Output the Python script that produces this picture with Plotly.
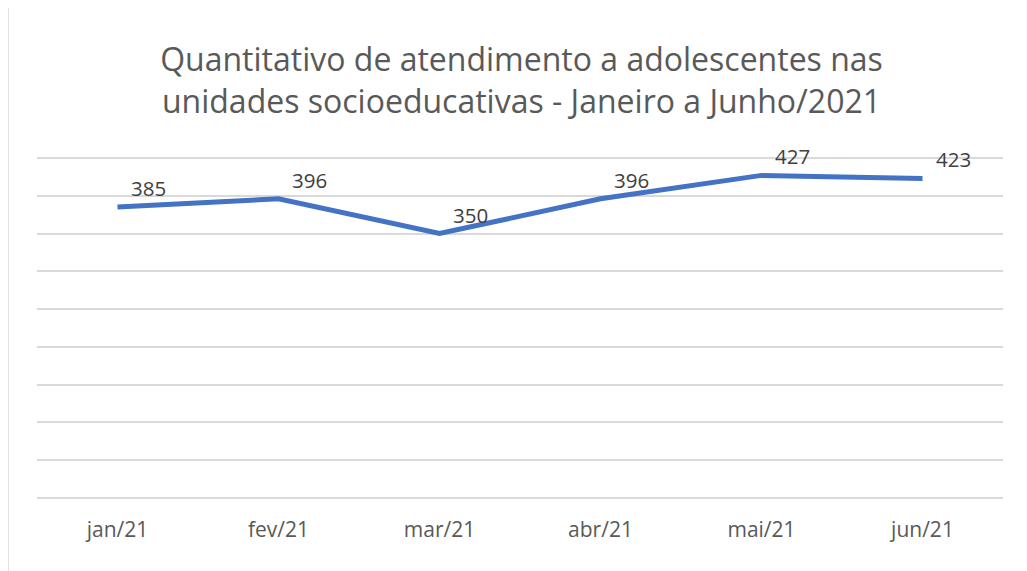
import plotly.graph_objects as go

months = ["jan/21", "fev/21", "mar/21", "abr/21", "mai/21", "jun/21"]
atendimentos = [385, 396, 350, 396, 427, 423]
title_text = "Quantitativo de atendimento a adolescentes nas<br>unidades socioeducativas - Janeiro a Junho/2021"

# the page body adds an 8px offset; compensate in margins
OFF = 8
W, H = 1027, 571
EXTRA = 4  # px of headroom above the 450 gridline so it gets drawn
L, R, T, B = 37 - OFF, 24 + OFF, 158 - OFF - EXTRA, 73 + OFF
pw, ph = W - L - R, H - T - B
scale = (ph - EXTRA) / 450.0
ytop = 450 + EXTRA / scale
FONT = "Open Sans, Lato, sans-serif"

fig = go.Figure()
fig.add_trace(go.Scatter(
    x=months, y=atendimentos, mode="lines",
    line=dict(color="#4472C4", width=5),
    hoverinfo="x+y", showlegend=False,
))

for m, v in zip(months, atendimentos):
    fig.add_annotation(x=m, y=v, text=str(v), showarrow=False,
                       xanchor="center", yanchor="middle",
                       xshift=31, yshift=19,
                       font=dict(family=FONT, size=20.5, color="#404040"))

fig.add_shape(type="rect", xref="paper", yref="paper",
              x0=(8 - OFF - L) / pw, x1=(W + 20 - L) / pw,
              y0=-(H + 20 - T - ph) / ph, y1=1 + (T - (7 - OFF)) / ph,
              line=dict(color="#d9d9d9", width=1.5), layer="below")

fig.update_layout(
    width=W, height=H,
    margin=dict(l=L, r=R, t=T, b=B, pad=0),
    paper_bgcolor="white", plot_bgcolor="white",
    title=dict(text=title_text, x=0.5, xanchor="center", y=1 - (71 - OFF) / H, yanchor="top",
               font=dict(family=FONT, size=32, color="#595959")),
    xaxis=dict(showgrid=False, showline=False, zeroline=False, ticks="",
               ticklabelstandoff=17,
               tickfont=dict(family=FONT, size=21, color="#595959"),
               range=[-0.5, 5.5], fixedrange=True),
    yaxis=dict(range=[0, ytop], dtick=50, tick0=0, showticklabels=False,
               showgrid=True, gridcolor="#d9d9d9", gridwidth=1.5,
               zeroline=True, zerolinecolor="#d9d9d9", zerolinewidth=1.5,
               showline=False, fixedrange=True),
)

fig.write_html("out.html")
